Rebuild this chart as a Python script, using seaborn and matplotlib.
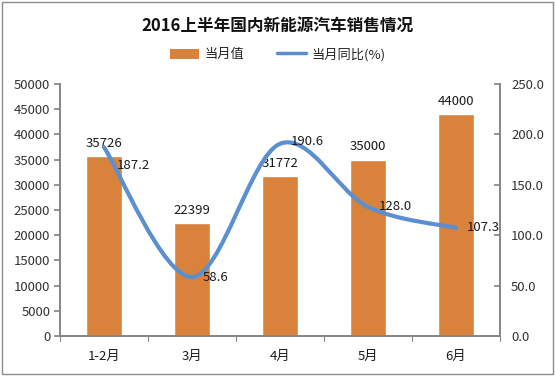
import numpy as np
import pandas as pd
import matplotlib
matplotlib.use("Agg")
import matplotlib.pyplot as plt
import seaborn as sns
from matplotlib.path import Path
from matplotlib.patches import PathPatch, Patch, Rectangle
from matplotlib.lines import Line2D

# 数据
months = ["1-2月", "3月", "4月", "5月", "6月"]
sales = [35726, 22399, 31772, 35000, 44000]
yoy = [187.2, 58.6, 190.6, 128.0, 107.3]

bar_color = "#D9823B"
line_color = "#5B8FD2"
axis_gray = "#868686"

sns.set_theme(style="white")
plt.rcParams['font.family'] = ['Noto Sans CJK SC', 'DejaVu Sans']

df = pd.DataFrame({"month": months, "sales": sales, "yoy": yoy})

fig = plt.figure(figsize=(5.55, 3.76), dpi=100)
ax = fig.add_axes([0.108, 0.106, 0.793, 0.671])

sns.barplot(data=df, x="month", y="sales", color=bar_color, saturation=1,
            width=0.4, ax=ax)
ax.set_ylim(0, 50000)
ax.set_yticks(range(0, 50001, 5000))
ax.set_xlim(-0.5, len(months) - 0.5)
ax.set_xlabel("")
ax.set_ylabel("")

for i, v in enumerate(sales):
    ax.text(i, v + 1200, str(v), ha="center", va="bottom", fontsize=9.5,
            color="#1a1a1a")

# 右轴：平滑曲线 (Catmull-Rom 贝塞尔)
ax2 = ax.twinx()
ax2.set_ylim(0, 250)
ax2.set_yticks(np.arange(0, 251, 50))
ax2.set_yticklabels([f"{t:.1f}" for t in np.arange(0, 251, 50)])

pts = np.column_stack([np.arange(len(yoy)), yoy]).astype(float)
verts = [tuple(pts[0])]
codes = [Path.MOVETO]
n = len(pts)
for i in range(n - 1):
    p0 = pts[max(i - 1, 0)]
    p1 = pts[i]
    p2 = pts[i + 1]
    p3 = pts[min(i + 2, n - 1)]
    c1 = p1 + (p2 - p0) / 6
    c2 = p2 - (p3 - p1) / 6
    verts += [tuple(c1), tuple(c2), tuple(p2)]
    codes += [Path.CURVE4] * 3
ax2.add_patch(PathPatch(Path(verts, codes), facecolor="none",
                        edgecolor=line_color, lw=3, capstyle="round"))

label_offsets = [(0.15, -18), (0.12, 0), (0.12, 2), (0.12, 0), (0.12, 0)]
for i, v in enumerate(yoy):
    dx, dy = label_offsets[i]
    ax2.text(i + dx, v + dy, f"{v:.1f}", ha="left", va="center", fontsize=9.5,
             color="#1a1a1a")

# 轴样式
for a in (ax, ax2):
    for s in a.spines.values():
        s.set_color(axis_gray)
    a.spines["top"].set_visible(False)
    a.grid(False)
ax.spines["left"].set_visible(True)
ax.tick_params(axis="y", left=True, direction="out", length=4, color=axis_gray,
               labelsize=9.5, labelcolor="#333333", pad=3)
ax.tick_params(axis="x", bottom=False, labelsize=9.5, labelcolor="#1a1a1a", pad=4)
ax2.tick_params(axis="y", right=True, direction="in", length=4, color=axis_gray,
                labelsize=9.5, labelcolor="#333333", pad=8)

# 类目分隔刻度
for xb in np.arange(-0.5, len(months), 1.0):
    ax.plot([xb, xb], [0, -900], color=axis_gray, lw=0.8, clip_on=False,
            transform=ax.transData)

fig.suptitle("2016上半年国内新能源汽车销售情况", y=0.955, fontsize=12,
             fontweight="bold", color="#111111")

handles = [Patch(facecolor=bar_color, edgecolor="none"),
           Line2D([0], [0], color=line_color, lw=2.5)]
fig.legend(handles, ["当月值", "当月同比(%)"], loc="center", ncol=2,
           bbox_to_anchor=(0.5, 0.855), frameon=False, fontsize=9.5,
           handlelength=2.2, handleheight=0.8, columnspacing=2.5,
           handletextpad=0.4)

fig.add_artist(Rectangle((0.003, 0.005), 0.994, 0.99, transform=fig.transFigure,
                         fill=False, edgecolor="#8c8c8c", lw=1))

fig.savefig("out.png", dpi=100)
